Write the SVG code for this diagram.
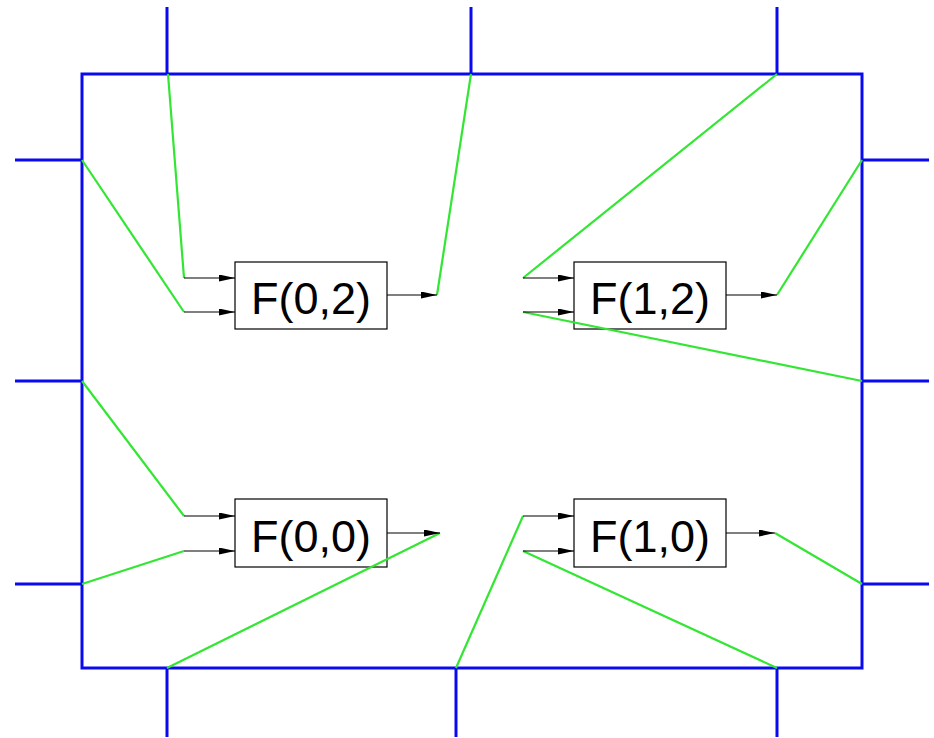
<svg xmlns="http://www.w3.org/2000/svg" width="934" height="738" viewBox="0 0 934 738">
<style>
.frame{fill:none;stroke:#0a0af0;stroke-width:3}
.stub{stroke:#0a0af0;stroke-width:3}
.wire{fill:none;stroke:#33e633;stroke-width:2.2}
.arr{stroke:#000;stroke-width:1.2;marker-end:url(#ah)}
.box{fill:none;stroke:#000;stroke-width:1.2}
.lbl{font-family:"Liberation Sans",Arial,sans-serif;font-size:45px;text-anchor:middle;fill:#000}
</style>
<defs>
<marker id="ah" markerUnits="userSpaceOnUse" markerWidth="17" markerHeight="8" refX="16" refY="3.5" orient="auto">
<path d="M0,0 L16,3.5 L0,7 z" fill="#000"/>
</marker>
</defs>
<rect width="934" height="738" fill="#fff"/>
<g id="frame">
<rect class="frame" x="82" y="74" width="780" height="594"/>
<line class="stub" x1="167" y1="7" x2="167" y2="74"/>
<line class="stub" x1="471" y1="7" x2="471" y2="74"/>
<line class="stub" x1="777" y1="7" x2="777" y2="74"/>
<line class="stub" x1="167" y1="668" x2="167" y2="737"/>
<line class="stub" x1="456" y1="668" x2="456" y2="737"/>
<line class="stub" x1="777" y1="668" x2="777" y2="737"/>
<line class="stub" x1="15" y1="160" x2="82" y2="160"/>
<line class="stub" x1="15" y1="381" x2="82" y2="381"/>
<line class="stub" x1="15" y1="584" x2="82" y2="584"/>
<line class="stub" x1="862" y1="160" x2="929" y2="160"/>
<line class="stub" x1="862" y1="381" x2="929" y2="381"/>
<line class="stub" x1="862" y1="584" x2="929" y2="584"/>
</g>
<g id="F02"><rect class="box" x="235" y="262" width="152" height="67"/><text class="lbl" x="311" y="314">F(0,2)</text></g>
<g id="F12"><rect class="box" x="574" y="262" width="152" height="67"/><text class="lbl" x="650" y="314">F(1,2)</text></g>
<g id="F00"><rect class="box" x="235" y="499" width="152" height="68"/><text class="lbl" x="311" y="552">F(0,0)</text></g>
<g id="F10"><rect class="box" x="574" y="499" width="152" height="68"/><text class="lbl" x="650" y="552">F(1,0)</text></g>
<g id="connectors">
<polyline class="wire" points="168,74 184,278"/>
<polyline class="wire" points="82,160 184,312"/>
<polyline class="wire" points="437,295 471,74"/>
<polyline class="wire" points="523,278 777,74"/>
<polyline class="wire" points="523,312 862,381"/>
<polyline class="wire" points="777,295 862,160"/>
<polyline class="wire" points="82,381 184,516"/>
<polyline class="wire" points="82,584 184,551"/>
<polyline class="wire" points="440,533 167,668"/>
<polyline class="wire" points="523,516 456,668"/>
<polyline class="wire" points="523,551 777,668"/>
<polyline class="wire" points="775,533 862,584"/>
<line class="arr" x1="184" y1="278" x2="235" y2="278"/>
<line class="arr" x1="184" y1="312" x2="235" y2="312"/>
<line class="arr" x1="387" y1="295" x2="437" y2="295"/>
<line class="arr" x1="523" y1="278" x2="574" y2="278"/>
<line class="arr" x1="523" y1="312" x2="574" y2="312"/>
<line class="arr" x1="726" y1="295" x2="777" y2="295"/>
<line class="arr" x1="184" y1="516" x2="235" y2="516"/>
<line class="arr" x1="184" y1="551" x2="235" y2="551"/>
<line class="arr" x1="387" y1="533" x2="440" y2="533"/>
<line class="arr" x1="523" y1="516" x2="574" y2="516"/>
<line class="arr" x1="523" y1="551" x2="574" y2="551"/>
<line class="arr" x1="726" y1="533" x2="775" y2="533"/>
</g>
</svg>
